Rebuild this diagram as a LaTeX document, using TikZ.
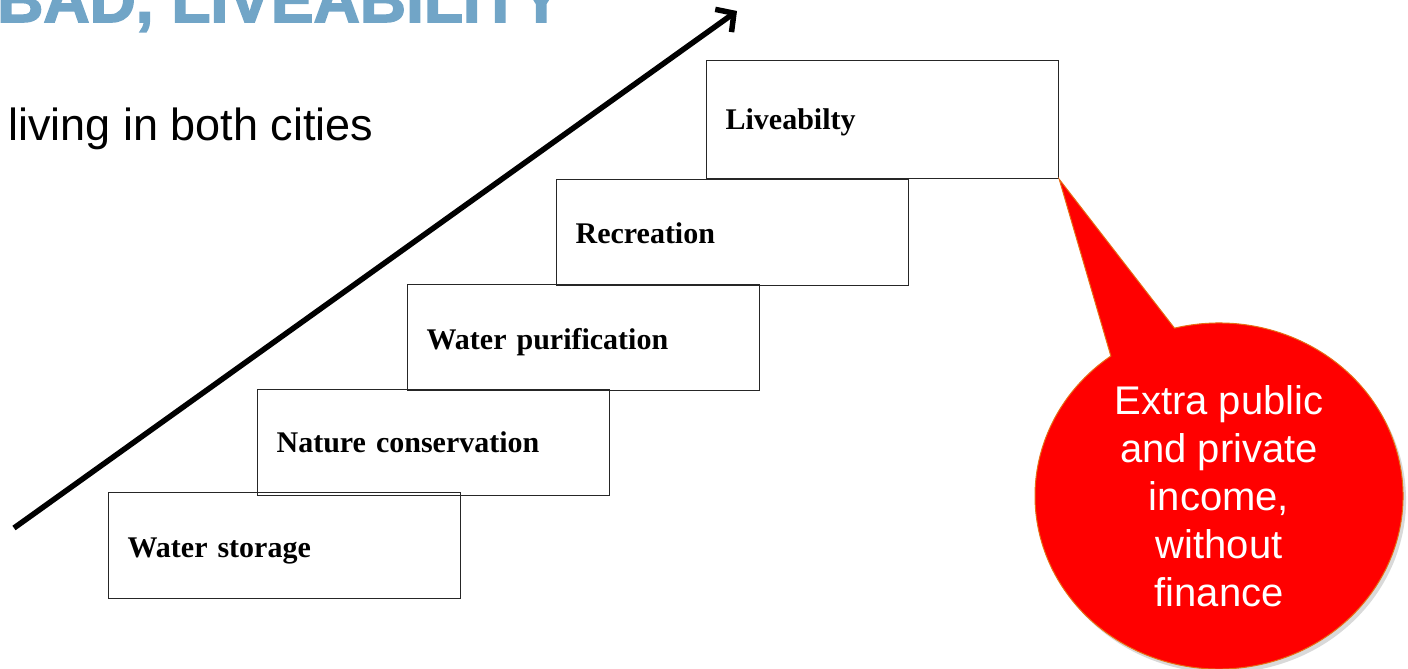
\documentclass[tikz,border=0pt]{standalone}
\usepackage{fontspec}
\setmainfont[WordSpace=0.6]{Liberation Serif}
\newfontfamily\arialf{Liberation Sans}
\newfontfamily\arialheavy[FakeBold=2.5]{Liberation Sans Bold}
\usetikzlibrary{arrows.meta,shadows,calc}
\definecolor{titleblue}{RGB}{113,165,199}
\definecolor{calloutred}{RGB}{255,0,0}
\definecolor{calloutedge}{RGB}{230,110,20}
\newcommand{\steptext}[2]{\raisebox{#1}[0pt][0pt]{#2}}
\begin{document}
\begin{tikzpicture}[x=1pt,y=1pt,
  stepbox/.style={draw=black!85, line width=1.2pt, rectangle, anchor=north west,
    inner xsep=19pt, text width=314pt, align=left, minimum height=106pt,
    font=\fontsize{30}{34}\selectfont\bfseries},
  bubbletext/.style={text=white, align=center, font=\arialf\fontsize{40}{48}\selectfont}]
\useasboundingbox (0,0) rectangle (1408,-669);
\clip (0,0) rectangle (1408,-669);
% title and subtitle
\node[anchor=base west, inner sep=0, text=titleblue, font=\arialheavy\fontsize{64}{70}\selectfont] (title) at (-3,-22) {BAD, LIVEABILITY};
\node[anchor=base west, inner sep=0, font=\arialf\fontsize{45}{50}\selectfont] (sub) at (8,-140) {living in both cities};
% steps
\node[stepbox] (s1) at (108,-492) {\steptext{-12pt}{Water storage}};
\node[stepbox] (s2) at (257,-389) {\steptext{-10pt}{Nature conservation}};
\node[stepbox] (s3) at (407,-284) {\steptext{-11.5pt}{Water purification}};
\node[stepbox] (s4) at (556,-179) {\steptext{-11pt}{Recreation}};
\node[stepbox, minimum height=118pt] (s5) at (706,-60) {\steptext{-10pt}{Liveabilty}};
% arrow
\coordinate (a0) at (14,-528);
\coordinate (a1) at (737,-11);
\draw[line width=5.5pt, -{Straight Barb[length=13pt,width=28pt]}] (a0) -- (a1);
% callout
\coordinate (cc) at (1219,-496);
\fill[calloutred, draw=calloutedge, line width=1pt, drop shadow={opacity=0.3, shadow xshift=3pt, shadow yshift=-4pt}]
  (s5.south east) -- ($(cc)+(104:184 and 173)$)
  arc[start angle=104, end angle=-234, x radius=184, y radius=173] -- cycle;
\node[bubbletext] (bubble) at (1219,-496) {Extra public\\and private\\income,\\without\\finance};
\end{tikzpicture}
\end{document}
